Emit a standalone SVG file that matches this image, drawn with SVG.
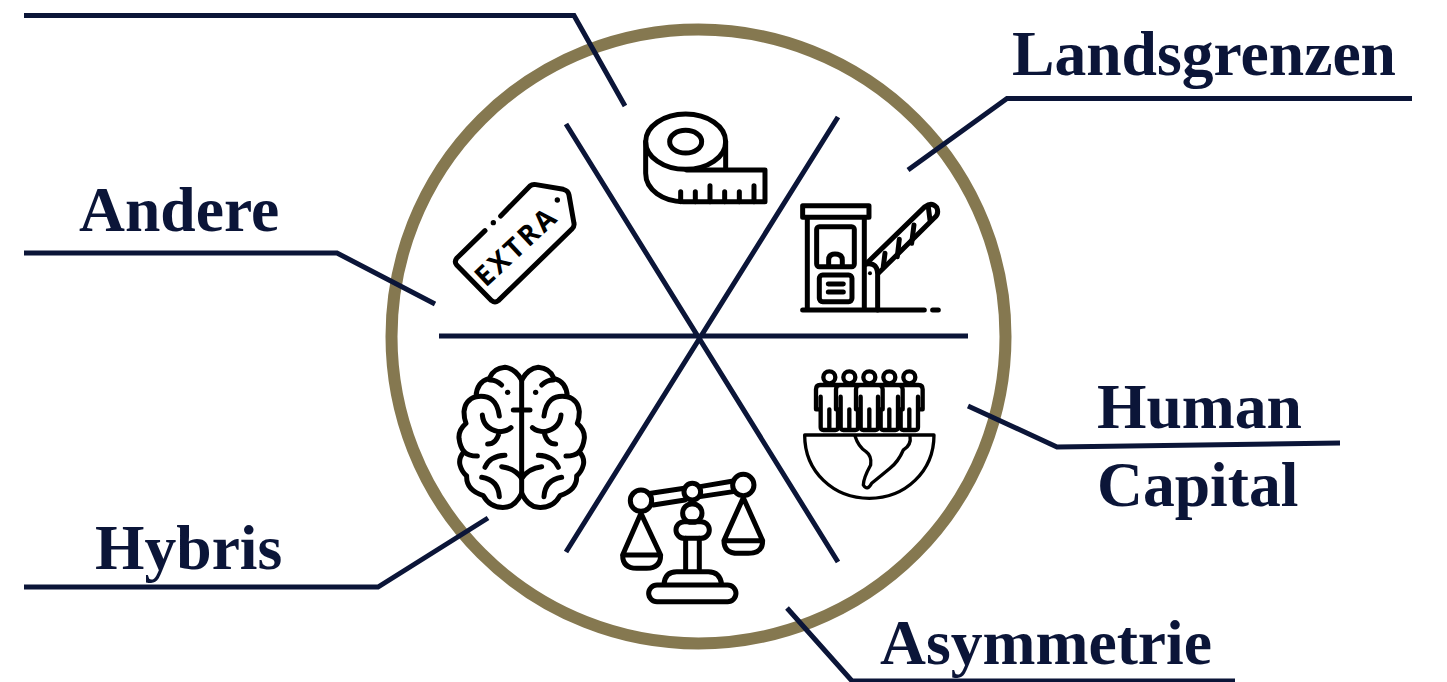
<svg xmlns="http://www.w3.org/2000/svg" xmlns:xlink="http://www.w3.org/1999/xlink" width="1447" height="682" viewBox="0 0 1447 682">
<style>
.lbl{font-family:"Liberation Serif","Times New Roman",serif;font-weight:700;font-size:63.6px;fill:#0b1538}
.lead{fill:none;stroke:#0b1538;stroke-width:5}
.ic{fill:none;stroke:#000;stroke-width:15;stroke-linecap:round;stroke-linejoin:round}
.dot{fill:#000;stroke:none}
</style>
<rect width="1447" height="682" fill="#fff"/>
<g id="ring"><circle cx="698.500" cy="336.500" r="307" fill="none" stroke="#857850" stroke-width="12"/></g>
<g id="connectors">
<path class="lead" d="M24 15.500H574L625 106"/>
<path class="lead" d="M1412 98.500H1007L908 170"/>
<path class="lead" d="M24 253H337L435 304"/>
<path class="lead" d="M1340 443L1057 447L968 406"/>
<path class="lead" d="M24 587H378L488 518"/>
<path class="lead" d="M1235 681H852L787 608"/>
<path class="lead" d="M439 336H968M566 124L838 562M838 117L566 552"/>
</g>
<g id="tape" transform="translate(620 90) scale(.3333)">
<g class="ic">
<ellipse cx="197" cy="155" rx="120" ry="83"/>
<ellipse cx="197" cy="155" rx="48" ry="34"/>
<path d="M77 155V250C77 300 130 335 190 335H435V240H200M317 155V240"/>
<path d="M182 335V305M226 335V305M270 335V287M314 335V305M358 335V305M402 335V287"/>
</g>
</g>
<g id="toll" transform="translate(620 90) scale(.3333)">
<g class="ic">
<path d="M548 347H747V382H548ZM562 382V660M733 382V660M548 660H913M938 660H955"/>
<rect x="590" y="410" width="113" height="120" rx="8"/>
<path d="M626 525V510Q626 492 645 492Q667 492 667 510V525"/>
<rect x="598" y="555" width="98" height="80" rx="10"/>
<path d="M625 582H670M625 606H670"/>
<path d="M738 522L915 350Q935 335 950 352Q958 370 945 382L775 550"/>
<path d="M738 522Q775 515 773 560V660"/>
<path d="M795 490L790 530M838 448L832 500M882 405L875 460M925 350L930 390"/>
</g>
<circle class="dot" cx="750" cy="550" r="6"/>
</g>
<g id="people" transform="translate(790 350) scale(.3333)">
<defs>
<g id="person">
<circle cx="0" cy="-158" r="18" fill="#fff" stroke="#000" stroke-width="13"/>
<path d="M-28 -135H28Q40 -135 40 -122V-62H26V-8Q26 0 18 0H-18Q-26 0 -26 -8V-62H-40V-122Q-40 -135 -28 -135ZM0 0V-62M-26 -100V-62M26 -100V-62" fill="#fff" stroke="#000" stroke-width="13" stroke-linejoin="round" stroke-linecap="round"/>
</g>
</defs>
<use xlink:href="#person" href="#person" x="118" y="240"/>
<use xlink:href="#person" href="#person" x="358" y="240"/>
<use xlink:href="#person" href="#person" x="178" y="240"/>
<use xlink:href="#person" href="#person" x="298" y="240"/>
<use xlink:href="#person" href="#person" x="238" y="240"/>
<g class="ic" style="stroke-width:10">
<path d="M44 255H432C432 365 345 445 238 445C130 445 44 365 44 255Z"/>
<path d="M195 258Q205 290 228 305Q246 318 242 345Q220 385 220 405Q232 425 245 400Q270 380 300 355Q325 335 340 300Q365 285 360 258"/>
</g>
</g>
<g id="brain" transform="translate(440 350) scale(.3333)">
<defs>
<g id="half" class="ic">
<path d="M245 90Q225 55 195 52Q160 55 148 85Q110 95 108 140Q75 150 72 185Q72 205 78 220Q55 240 57 265Q60 290 72 305Q55 325 60 345Q65 365 80 378Q78 420 130 437Q150 475 195 472Q225 470 245 430"/>
<path d="M150 90Q170 90 185 105M108 140Q170 130 178 198"/>
<path d="M127 195Q130 235 175 245Q200 245 213 233M143 282Q170 282 178 245"/>
<path d="M72 305Q85 318 112 318M135 352Q150 318 195 316M185 350Q225 355 245 385"/>
<path d="M125 382Q175 390 178 440"/>
<path d="M220 180H245"/>
</g>
</defs>
<use xlink:href="#half" href="#half"/>
<use xlink:href="#half" href="#half" transform="translate(490 0) scale(-1 1)"/>
<path class="ic" d="M245 90V430"/>
<circle class="dot" cx="203" cy="127" r="8"/>
<circle class="dot" cx="287" cy="127" r="8"/>
</g>
<g id="scales" transform="translate(440 350) scale(.3333)">
<g class="ic">
<circle cx="603" cy="452" r="32"/>
<circle cx="910" cy="405" r="32"/>
<circle cx="757" cy="425" r="25"/>
<path d="M633 430L733 415M640 465L735 450M780 410L880 393M780 440L880 425"/>
<path d="M603 490L548 615H662L603 490ZM548 615Q548 655 590 655H620Q662 655 662 615"/>
<path d="M910 443L852 572H968L910 443ZM852 572Q852 610 895 610H925Q968 610 968 572"/>
<rect x="728" y="462" width="58" height="55" rx="27"/>
<rect x="708" y="515" width="100" height="50" rx="25"/>
<path d="M737 565V662M778 565V662"/>
<path d="M672 703Q675 665 710 665H805Q840 665 845 703"/>
<rect x="626" y="705" width="262" height="50" rx="25"/>
</g>
</g>
<g id="tag" transform="translate(440 170) scale(.3333)">
<g class="ic">
<path d="M182 138L270 48Q277 42 288 44L370 58Q385 62 387 75L402 160Q404 170 395 178L175 392Q165 400 155 392L50 285Q42 275 50 265L135 182"/>
</g>
<circle class="dot" cx="160" cy="158" r="8"/>
<circle class="dot" cx="352" cy="90" r="8"/>
<text x="226" y="226" transform="rotate(-43 226 226)" text-anchor="middle" dominant-baseline="central" font-family="'Open Sans','Liberation Sans',sans-serif" font-weight="700" font-size="84" letter-spacing="8" fill="#000">EXTRA</text>
</g>
<g id="label-landsgrenzen"><text class="lbl" x="1012" y="75">Landsgrenzen</text></g>
<g id="label-andere"><text class="lbl" x="79" y="231">Andere</text></g>
<g id="label-hybris"><text class="lbl" x="95" y="569">Hybris</text></g>
<g id="label-human"><text class="lbl" x="1097" y="428">Human</text><text class="lbl" x="1097" y="506">Capital</text></g>
<g id="label-asymmetrie"><text class="lbl" x="880" y="664">Asymmetrie</text></g>
</svg>
